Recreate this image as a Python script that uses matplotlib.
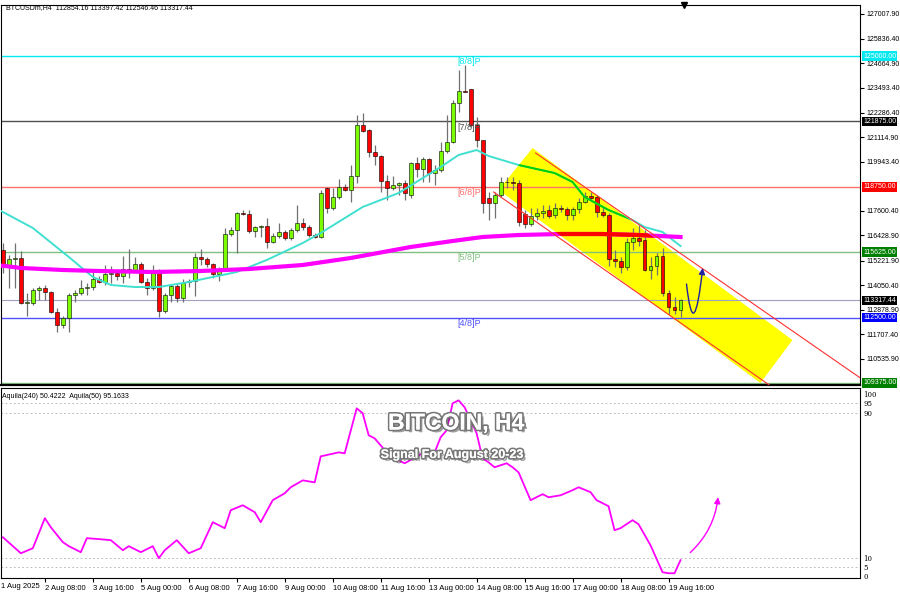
import numpy as np
import matplotlib.pyplot as plt
import matplotlib.patheffects as pe
from matplotlib.patches import Polygon, FancyArrowPatch
from matplotlib.path import Path
from matplotlib.transforms import blended_transform_factory

# H4 candles, bar 1 = 1 Aug 2025 04:00
opens = [115729, 115013, 115299, 115347, 113197, 113197, 113818, 113913, 113722, 112767,
         112145, 112480, 113579, 113675, 113913, 113961, 114343, 114200, 114583, 114630,
         114487, 114821, 114726, 115060, 114200, 113913, 114726, 112814, 113579, 114009,
         113436, 114200, 114248, 115395, 115299, 115060, 114583, 114821, 116494, 116685,
         117498, 117450, 116638, 116829, 116876, 116112, 116399, 116590, 116303, 116685,
         117020, 116829, 116446, 116351, 118692, 117737, 118262, 118740, 118597, 119266,
         121703, 121464, 120413, 120222, 119027, 118692, 118836, 118931, 118358, 119887,
         119600, 120078, 119409, 119553, 120461, 120891, 122755, 123328, 123424, 121703,
         120986, 118215, 117976, 118358, 118979, 118979, 118931, 117450, 116972, 117354,
         117498, 117641, 117402, 117737, 117689, 117402, 117689, 118023, 118310, 118262,
         117546, 117402, 115299, 115204, 114917, 116112, 116303, 116207, 114774, 114965,
         115443, 113675, 113005, 112854.16]
highs = [116064, 115491, 116064, 115682, 113675, 113913, 114009, 114057, 113770, 112958,
         112575, 113675, 113818, 114296, 114152, 114821, 114487, 115013, 114965, 114821,
         115443, 115777, 115395, 115156, 114391, 115013, 114821, 113675, 114105, 114152,
         114343, 114343, 115586, 115777, 115395, 115108, 114917, 116781, 116829, 117546,
         117641, 117641, 116876, 116924, 117259, 116542, 117020, 116685, 116781, 117880,
         117259, 116924, 116542, 118597, 118740, 118692, 119123, 118884, 119792, 122181,
         122277, 121512, 120747, 120270, 119314, 119266, 118979, 119075, 119935, 120174,
         120174, 120126, 119792, 120891, 122181, 122898, 124332, 124571, 123424, 122086,
         120986, 118501, 118501, 119218, 119218, 119218, 119075, 117641, 117737, 117737,
         117880, 117880, 117976, 117880, 117785, 117785, 118215, 118501, 118501, 118358,
         117785, 117498, 115729, 115395, 116303, 116781, 116924, 116685, 115395, 115586,
         115825, 113818, 113483, 113397.42]
lows = [114630, 113913, 113913, 113149, 112575, 113101, 113340, 113340, 112719, 111811,
        112002, 111811, 113244, 113579, 113579, 113818, 114152, 114057, 114152, 114296,
        114152, 114391, 114678, 114152, 113579, 113818, 112528, 112719, 113244, 113244,
        113244, 113961, 113531, 115013, 114917, 114391, 114248, 114774, 116399, 115586,
        117402, 116542, 116351, 116351, 115825, 116064, 116303, 116207, 116207, 116590,
        116685, 116351, 116303, 116303, 117498, 117641, 118167, 118549, 118023, 118931,
        121369, 120174, 119792, 118501, 118119, 118597, 118358, 118119, 118215, 119218,
        118979, 118979, 118836, 119457, 120365, 120843, 122325, 123280, 121606, 120652,
        117498, 117163, 117259, 118262, 118692, 118597, 116876, 116781, 116876, 117163,
        117259, 117259, 117259, 117546, 117163, 117163, 117498, 117976, 118119, 117306,
        117306, 114965, 114917, 114630, 114774, 115729, 115920, 114726, 114343, 114535,
        113531, 112671, 112671, 112546.46]
closes = [115013, 115299, 115347, 113197, 113244, 113818, 113913, 113722, 112767, 112145,
          112480, 113579, 113675, 113913, 113961, 114343, 114200, 114583, 114630, 114487,
          114821, 114726, 115060, 114200, 113913, 114726, 112814, 113579, 114009, 113436,
          114152, 114248, 115395, 115299, 115060, 114583, 114821, 116494, 116685, 117498,
          117450, 116638, 116829, 116876, 116112, 116399, 116590, 116303, 116685, 117020,
          116829, 116446, 116351, 118454, 117737, 118262, 118740, 118597, 119266, 121703,
          121417, 120413, 120222, 119027, 118692, 118836, 118931, 118454, 119887, 119600,
          120078, 119409, 119553, 120461, 120891, 122755, 123328, 123280, 121703, 120986,
          117976, 117976, 118358, 118979, 118979, 118931, 117068, 116972, 117354, 117498,
          117593, 117354, 117737, 117689, 117402, 117689, 118023, 118310, 118215, 117546,
          117402, 115299, 115204, 114917, 116112, 116303, 116160, 114774, 114965, 115443,
          113675, 113005, 112854.16, 113317.44]

# moving averages (bar index, price)
ma_fast_bars = [0, 6, 12, 16, 19, 23, 27, 32, 36, 40, 45, 51, 54, 61, 67, 74, 77, 80, 82,
                87, 93, 96, 98, 102, 106, 108, 111, 114]
ma_fast_vals = [117700, 116781, 115395, 114439, 114057, 113961, 113961, 114200, 114439,
                114678, 115252, 116064, 116542, 117785, 118454, 119696, 120270, 120508,
                120222, 119792, 119409, 118979, 118262, 117641, 117163, 116829, 116590, 115920]
ma_slow_bars = [0, 4, 11, 17, 26, 34, 42, 51, 59, 69, 76, 81, 87, 94, 101, 107, 114]
ma_slow_vals = [115013, 114870, 114774, 114726, 114678, 114726, 114821, 115013, 115347,
                115873, 116160, 116351, 116446, 116494, 116494, 116446, 116351]

# Murrey math levels
levels = [125000, 121875, 118750, 115625, 112500, 109375]
level_names = ['[8/8]P', '[7/8]P', '[6/8]P', '[5/8]P', '[4/8]P', '[3/8]P']
level_colors = ['#00e8f0', '#505050', '#ff7070', '#80c080', '#5050ff', '#80c080']
box_colors = ['#00e8f0', '#000000', '#ff0000', '#008000', '#0000ff', '#008000']
last_price = 113317.44

price_ticks = [127007.90, 125836.40, 124664.90, 123493.40, 122286.40, 121114.90, 119943.40,
               117600.40, 116428.90, 115221.90, 114050.40, 112878.90, 111707.40, 110535.90]

# oscillator (Aquila 50)
osc_bars = [1, 4, 6, 8, 9, 11, 12, 14, 15, 17, 19, 21, 22, 24, 26, 27, 28, 30, 32, 34, 36,
            38, 39, 41, 43, 44, 46, 48, 49, 51, 53, 54, 57, 58, 60, 61, 62, 63, 65, 66, 67,
            68, 71, 73, 74, 75, 76, 77, 78, 80, 81, 82, 83, 85, 86, 87, 89, 91, 92, 94, 96,
            97, 99, 100, 102, 103, 104, 106, 107, 109, 111, 112, 113, 114]
osc_vals = [21.4, 12.6, 15.4, 31.9, 26.9, 18.7, 16.5, 13.2, 20.9, 20.4, 19.8, 14.3, 16.5,
            13.2, 16.5, 9.9, 14.3, 19.8, 12.6, 15.4, 29.7, 26.4, 36.3, 39.0, 35.2, 29.7, 41.8,
            45.6, 48.9, 52.7, 51.6, 65.9, 68.1, 67.6, 92.3, 89.6, 77.5, 75.8, 68.1, 64.8,
            63.7, 62.1, 67.6, 68.1, 76.4, 80.2, 95.1, 96.7, 92.9, 78.6, 64.8, 62.6, 59.9,
            62.1, 59.9, 57.1, 41.8, 45.1, 43.4, 44.5, 47.3, 48.9, 46.2, 41.8, 38.5, 25.3,
            26.4, 30.8, 28.6, 17.0, 2.2, 1.6, 1.6, 8.8]

xtick_bars = list(range(8, 113, 8))
xtick_labels = ['2 Aug 08:00', '3 Aug 16:00', '5 Aug 00:00', '6 Aug 08:00',
                '7 Aug 16:00', '9 Aug 00:00', '10 Aug 08:00', '11 Aug 16:00', '13 Aug 00:00',
                '14 Aug 08:00', '15 Aug 16:00', '17 Aug 00:00', '18 Aug 08:00', '19 Aug 16:00']

# channel (bar index, price)
channel = [(89.33, 120604), (132.67, 111428), (127.33, 109373), (83.67, 118597)]
chan_upper = [(89.83, 120365), (144, 109612)]
chan_lower = [(82.83, 118501), (130, 109038)]

plt.rcParams['font.family'] = ['Liberation Sans', 'DejaVu Sans']

fig = plt.figure(figsize=(9, 6), dpi=100)
ax = fig.add_axes([0.001, 1 - 385 / 600, 0.955, 380 / 600])
ax2 = fig.add_axes([0.001, 1 - 578 / 600, 0.955, 190 / 600], sharex=ax)

x = np.arange(1, len(opens) + 1)
o = np.array(opens)
c = np.array(closes)
up = c >= o

ax.add_patch(Polygon(channel, closed=True, facecolor='#ffff00', edgecolor='none', zorder=1))
chan_clip = Polygon(channel, closed=True, transform=ax.transData)

for lv, col in zip(levels, level_colors):
    ax.axhline(lv, color=col, lw=1.0, zorder=1.5)
ax.axhline(last_price, color='#a0a0c0', lw=0.8, zorder=1.5)

ax.vlines(x, lows, highs, color='#707070', lw=0.9, zorder=2)
ax.bar(x, np.abs(c - o), bottom=np.minimum(o, c), width=0.66,
       color=np.where(up, '#7cfc00', '#ff0000'), edgecolor='black', linewidth=0.4, zorder=2.5)

ax.plot(ma_fast_bars, ma_fast_vals, color='#40e0d0', lw=1.4, zorder=3)
ax.plot(ma_slow_bars, ma_slow_vals, color='#ff00ff', lw=3, zorder=3)
l1, = ax.plot(ma_fast_bars, ma_fast_vals, color='#00d000', lw=1.4, zorder=3.1)
l2, = ax.plot(ma_slow_bars, ma_slow_vals, color='#ff0000', lw=3, zorder=3.1)
l1.set_clip_path(chan_clip)
l2.set_clip_path(chan_clip)

ax.plot(*zip(*chan_upper), color='#ff3030', lw=0.8, zorder=3.2)
ax.plot(*zip(*chan_lower), color='#ff3030', lw=0.8, zorder=3.2)

for lv, name, col in zip(levels[:5], level_names[:5], level_colors[:5]):
    ax.text(76.8, lv - 60, name, color=col, fontsize=6.5, va='top', ha='left', zorder=4)

# forecast arrow in price window
verts = [(115, 114105), (116.2, 111000), (117.7, 114870)]
arrow = FancyArrowPatch(path=Path(verts, [Path.MOVETO, Path.CURVE3, Path.CURVE3]),
                        arrowstyle='-|>', mutation_scale=9, color='#2020a0', lw=1.0, zorder=5)
ax.add_patch(arrow)

ax.set_xlim(0.67, 144)
ax.set_ylim(109278, 127438)
ax.yaxis.tick_right()
ax.set_yticks(price_ticks)
ax.set_yticklabels(['%.2f' % t for t in price_ticks])
ax.tick_params(axis='y', labelsize=5, length=3, pad=1.5)
ax.tick_params(axis='x', bottom=False, labelbottom=False)

tr = blended_transform_factory(ax.transAxes, ax.transData)
for lv, bc in zip(levels, box_colors):
    ax.text(1.003, lv, '%.2f' % lv, transform=tr, fontsize=5, color='white', va='center',
            ha='left', bbox=dict(facecolor=bc, edgecolor='none', pad=0.9), clip_on=False)
ax.text(1.003, last_price, '%.2f' % last_price, transform=tr, fontsize=5, color='white',
        va='center', ha='left', bbox=dict(facecolor='black', edgecolor='none', pad=0.9),
        clip_on=False)

for sp in ax.spines.values():
    sp.set_color('black')
    sp.set_linewidth(0.8)
ax.spines['bottom'].set_linewidth(1.6)

ax.plot([683 / 860], [1.0], marker='v', color='black', ms=4, transform=ax.transAxes,
        clip_on=False)
fig.text(6 / 900, 1 - 8 / 600, 'BTCUSDm,H4  112854.16 113397.42 112546.46 113317.44',
         fontsize=5, va='center', ha='left')

# oscillator window
for lv in [95, 90, 10, 5]:
    ax2.axhline(lv, color='#b0b0b0', lw=0.6, ls=(0, (2, 3)))
ax2.plot(osc_bars, osc_vals, color='#ff00ff', lw=1.3)
ax2.set_ylim(-1, 103.5)
ax2.yaxis.tick_right()
ax2.set_yticks([100, 95, 90, 10, 5, 0])
ax2.set_yticklabels(['100', '95', '90', '10', '5', '0'], fontfamily='DejaVu Serif')
ax2.tick_params(axis='y', labelsize=5, length=0, pad=2)
ax2.set_xticks(xtick_bars)
ax2.set_xticklabels(xtick_labels, ha='left')
ax2.tick_params(axis='x', labelsize=5.5, length=3, pad=2)
for sp in ax2.spines.values():
    sp.set_color('black')
    sp.set_linewidth(0.8)
fig.text(1 / 900, 1 - 587 / 600, '1 Aug 2025', fontsize=5.5, va='center', ha='left')

fig.text(2 / 900, 1 - 396 / 600, 'Aquila(240) 50.4222  Aquila(50) 95.1633', fontsize=5,
         va='center', ha='left')

marrow = FancyArrowPatch((115.3, 12), (120.3, 45), connectionstyle='arc3,rad=0.2',
                         arrowstyle='-|>', mutation_scale=9, color='#ff00ff', lw=1.0)
ax2.add_patch(marrow)

fx = [pe.SimplePatchShadow(offset=(2, -2), shadow_rgbFace='#404040', alpha=0.5),
      pe.withStroke(linewidth=2.5, foreground='#777777'), pe.Normal()]
fig.text(456 / 900, 1 - 423 / 600, 'BITCOIN, H4', fontsize=16.5, fontweight='bold',
         color='white', ha='center', va='center', path_effects=fx)
fig.text(452 / 900, 1 - 455 / 600, 'Signal For August 20-23', fontsize=9, fontweight='bold',
         color='white', ha='center', va='center', path_effects=fx)

fig.savefig('out.png', dpi=100)
